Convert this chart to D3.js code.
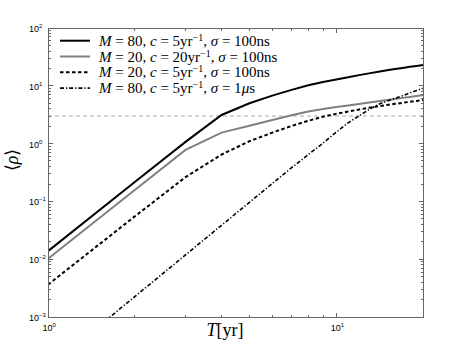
<!DOCTYPE html>
<html><head><meta charset="utf-8">
<script src="https://cdn.jsdelivr.net/npm/d3@7"></script>
<style>body{margin:0;background:#fff}svg{display:block}</style>
</head><body><svg id="c" width="463" height="348"></svg>
<script>
// ---- data ----
const T = [1,2,3,4,5,6,7,8,9,10,11,12,13,14,15,16,17,18,19,20];
const rhoM80c5s100 = [0.0138,0.217,1.07,3.13,4.98,6.76,8.51,10.2,11.6,12.9,14.1,15.3,16.4,17.5,18.5,19.5,20.4,21.3,22.1,22.9];
const rhoM20c20s100 = [0.0102,0.158,0.776,1.55,2.04,2.57,3.10,3.60,3.98,4.29,4.57,4.86,5.14,5.41,5.68,5.93,6.18,6.43,6.68,6.92];
const rhoM20c5s100 = [0.00363,0.055,0.263,0.646,1.10,1.55,2.02,2.48,2.92,3.27,3.59,3.89,4.17,4.42,4.66,4.88,5.08,5.28,5.48,5.68];
const rhoM80c5s1us = [0.000132,0.00225,0.01186,0.0386,0.0964,0.204,0.383,0.646,1.02,1.58,2.29,3.02,3.89,4.79,5.43,6.10,6.76,7.50,8.26,9.06];
const threshold = 3;
const xMajor = [1,10];
const yMajor = [1e-3,1e-2,1e-1,1e0,1e1,1e2];
const xTickLabels = ["0","1"];
const yTickLabels = ["\u22123","\u22122","\u22121","0","1","2"];
const legendLabels = [
  [["M","i"],[" = 80, ",""],["c","i"],[" = 5yr",""],["\u22121","s"],[", ",""],["\u03c3","i"],[" = 100ns",""]],
  [["M","i"],[" = 20, ",""],["c","i"],[" = 20yr",""],["\u22121","s"],[", ",""],["\u03c3","i"],[" = 100ns",""]],
  [["M","i"],[" = 20, ",""],["c","i"],[" = 5yr",""],["\u22121","s"],[", ",""],["\u03c3","i"],[" = 100ns",""]],
  [["M","i"],[" = 80, ",""],["c","i"],[" = 5yr",""],["\u22121","s"],[", ",""],["\u03c3","i"],[" = 1",""],["\u03bc","i"],["s",""]]
];
const seriesData = [rhoM80c5s100, rhoM20c20s100, rhoM20c5s100, rhoM80c5s1us];
const seriesStyle = [
  {stroke:"#000", width:2, dash:null},
  {stroke:"#808080", width:2, dash:null},
  {stroke:"#000", width:2, dash:"3.5,2.5"},
  {stroke:"#000", width:1.6, dash:"4,2,1.2,2"}
];

// ---- layout ----
const L=48, R=423, TOP=28, B=317;
const svg = d3.select("#c");
const x = d3.scaleLog().domain([1,20]).range([L,R]);
const y = d3.scaleLog().domain([1e-3,1e2]).range([B,TOP]);

svg.append("defs").append("clipPath").attr("id","clip")
  .append("rect").attr("x",L).attr("y",TOP).attr("width",R-L).attr("height",B-TOP);

// threshold line
svg.append("line").attr("x1",L).attr("x2",R).attr("y1",y(threshold)).attr("y2",y(threshold))
  .attr("stroke","#aaa").attr("stroke-width",1).attr("stroke-dasharray","4,3");

// series
const line = d3.line().x((d,i)=>x(T[i])).y(d=>y(d));
const g = svg.append("g").attr("clip-path","url(#clip)");
seriesData.forEach((s,k)=>{
  const st = seriesStyle[k];
  g.append("path").attr("d",line(s)).attr("fill","none")
    .attr("stroke",st.stroke).attr("stroke-width",st.width)
    .attr("stroke-dasharray",st.dash);
});

// frame & ticks
const ax = svg.append("g").attr("stroke","#666").attr("stroke-width",1).attr("shape-rendering","crispEdges");
ax.append("rect").attr("x",L).attr("y",TOP).attr("width",R-L).attr("height",B-TOP).attr("fill","none");
const xMinor = [2,3,4,5,6,7,8,9,20];
xMinor.forEach(v=>{
  ax.append("line").attr("x1",x(v)).attr("x2",x(v)).attr("y1",B).attr("y2",B-2.5);
  ax.append("line").attr("x1",x(v)).attr("x2",x(v)).attr("y1",TOP).attr("y2",TOP+2.5);
});
xMajor.forEach(v=>{
  ax.append("line").attr("x1",x(v)).attr("x2",x(v)).attr("y1",B).attr("y2",B-4.5);
  ax.append("line").attr("x1",x(v)).attr("x2",x(v)).attr("y1",TOP).attr("y2",TOP+4.5);
});
yMajor.forEach((v,i)=>{
  ax.append("line").attr("x1",L).attr("x2",L+4.5).attr("y1",y(v)).attr("y2",y(v));
  ax.append("line").attr("x1",R).attr("x2",R-4.5).attr("y1",y(v)).attr("y2",y(v));
  if(i<yMajor.length-1){
    for(let m=2;m<=9;m++){
      const yy=y(v*m);
      ax.append("line").attr("x1",L).attr("x2",L+2.5).attr("y1",yy).attr("y2",yy);
      ax.append("line").attr("x1",R).attr("x2",R-2.5).attr("y1",yy).attr("y2",yy);
    }
  }
});

// tick labels
const tf = "'Liberation Sans', Arial, sans-serif";
xMajor.forEach((v,i)=>{
  const t = svg.append("text").attr("x",x(v)-5.5).attr("y",B+13.5)
    .attr("font-family",tf).attr("font-size",9).attr("fill","#000");
  t.append("tspan").text("10");
  t.append("tspan").attr("dy",-4).attr("font-size",6).text(xTickLabels[i]);
});
yMajor.forEach((v,i)=>{
  const t = svg.append("text").attr("x",29).attr("y",y(v)+4)
    .attr("font-family",tf).attr("font-size",9).attr("fill","#000");
  t.append("tspan").text("10");
  t.append("tspan").attr("dy",-4).attr("font-size",6).text(yTickLabels[i]);
});

// axis titles
const mf = "'Liberation Serif', 'Times New Roman', serif";
const xl = svg.append("text").attr("x",225).attr("y",336).attr("text-anchor","middle")
  .attr("font-family",mf).attr("font-size",18).attr("fill","#000");
xl.append("tspan").attr("font-style","italic").text("T");
xl.append("tspan").text("[yr]");
const yl = svg.append("text").attr("transform","translate(18,160) rotate(-90)").attr("text-anchor","middle")
  .attr("font-family",mf).attr("font-size",18).attr("fill","#000");
yl.append("tspan").text("\u27e8");
yl.append("tspan").attr("font-style","italic").text("\u03c1");
yl.append("tspan").text("\u27e9");

// legend
const legY = [40.7,56.5,72.3,88.1];
legendLabels.forEach((parts,k)=>{
  const st = seriesStyle[k];
  svg.append("line").attr("x1",60).attr("x2",90).attr("y1",legY[k]).attr("y2",legY[k])
    .attr("stroke",st.stroke).attr("stroke-width",st.width).attr("stroke-dasharray",st.dash);
  const t = svg.append("text").attr("x",99).attr("y",legY[k]+5)
    .attr("font-family",mf).attr("font-size",15).attr("fill","#000");
  let sup=false;
  parts.forEach(([s,f])=>{
    const ts = t.append("tspan").text(s);
    if(f==="i") ts.attr("font-style","italic");
    if(f==="s"){ ts.attr("font-size",10).attr("dy",-5); sup=true; }
    else if(sup){ ts.attr("dy",5); sup=false; }
  });
});
</script></body></html>
